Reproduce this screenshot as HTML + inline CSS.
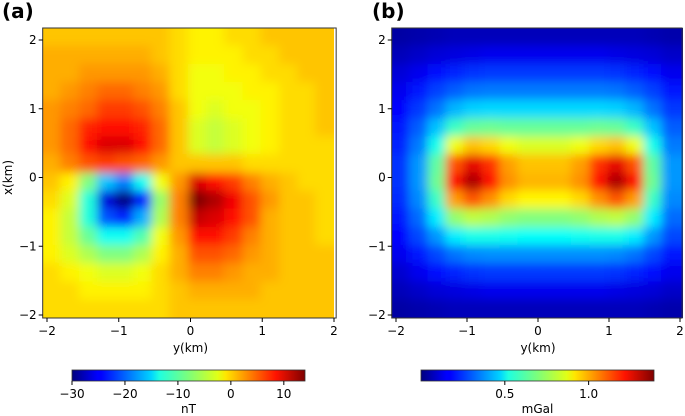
<!DOCTYPE html>
<html><head><meta charset="utf-8"><style>
html,body{margin:0;padding:0;background:#fff;}
svg{display:block;font-family:"DejaVu Sans","Liberation Sans",sans-serif;}
</style></head><body>
<svg id="fig" width="685" height="416" viewBox="0 0 685 416">
<defs>
<filter id="sm" x="-0.2" y="-0.2" width="1.4" height="1.4"><feGaussianBlur stdDeviation="5"/></filter>
<clipPath id="ca"><rect x="43" y="28" width="291" height="290"/></clipPath>
<clipPath id="cb"><rect x="392" y="28" width="291" height="290"/></clipPath>
<linearGradient id="jet" x1="0" x2="1" y1="0" y2="0">
<stop offset="0" stop-color="#00007f"/><stop offset="0.11" stop-color="#0000ff"/><stop offset="0.125" stop-color="#0000ff"/>
<stop offset="0.34" stop-color="#00d4ff"/><stop offset="0.375" stop-color="#1fffe0"/><stop offset="0.5" stop-color="#7dff7a"/>
<stop offset="0.625" stop-color="#e0ff17"/><stop offset="0.66" stop-color="#ffe600"/><stop offset="0.875" stop-color="#ff1300"/>
<stop offset="1" stop-color="#7f0000"/></linearGradient>
</defs>
<text x="2" y="18" font-size="20" font-weight="bold">(a)</text>
<text x="372" y="18" font-size="20" font-weight="bold">(b)</text>
<g id="pa"></g>
<g id="pb"></g>
</svg>
<script>
const colCenters=[-1.93,-1.68,-1.42,-1.17,-0.92,-0.66,-0.41,-0.16,0.10,0.35,0.60,0.86,1.11,1.37,1.62,1.87];
const rowCenters=[2.04,1.78,1.51,1.25,0.99,0.72,0.46,0.20,-0.07,-0.33,-0.59,-0.86,-1.12,-1.38,-1.65,-1.91];
const magValues=[
[0,0,0,0,0,0,0,-1,-2,-2,-1,-1,0,0,0,0],
[1,1,1,1,1,1,0,-1,-2,-2,-2,-1,-1,0,0,0],
[1,1,2,2,2,2,1,-1,-3,-3,-2,-2,-1,-1,0,0],
[1,2,3,4,4,3,2,-1,-3,-3,-3,-2,-2,-1,-1,0],
[2,3,4,6,6,5,3,0,-3,-4,-3,-3,-2,-1,-1,0],
[2,4,7,8,8,7,4,0,-4,-5,-4,-3,-2,-1,-1,0],
[2,4,8,10,10,8,4,0,-4,-5,-4,-3,-2,-1,-1,-1],
[1,3,5,6,5,4,2,0,0,0,0,-1,-1,-1,-1,-1],
[0,-2,-8,-16,-19,-13,-3,2,10,8,6,3,1,0,-1,-1],
[-1,-4,-12,-26,-30,-24,-7,3,14,12,9,5,2,0,0,-1],
[-2,-5,-12,-21,-23,-17,-6,3,11,10,8,5,1,0,0,-1],
[-2,-5,-9,-13,-13,-10,-3,2,8,8,6,3,1,0,0,-1],
[-2,-4,-6,-8,-8,-6,-2,1,5,5,4,2,1,0,0,0],
[-1,-2,-3,-4,-4,-3,-1,1,3,3,2,1,1,0,0,0],
[-1,-1,-2,-2,-2,-2,-1,0,1,1,1,1,0,0,0,0],
[-1,-1,-1,-1,-1,-1,-1,0,0,0,0,0,0,0,0,0]];
const gravValues=[
[0.05,0.06,0.07,0.08,0.08,0.08,0.08,0.08,0.08,0.08,0.08,0.08,0.08,0.08,0.07,0.06],
[0.08,0.1,0.12,0.13,0.14,0.15,0.15,0.15,0.15,0.15,0.15,0.15,0.14,0.13,0.12,0.1],
[0.12,0.15,0.19,0.22,0.24,0.25,0.25,0.25,0.25,0.25,0.25,0.25,0.24,0.22,0.19,0.15],
[0.15,0.2,0.26,0.3,0.33,0.34,0.34,0.34,0.34,0.34,0.34,0.34,0.33,0.3,0.26,0.2],
[0.18,0.25,0.33,0.42,0.46,0.47,0.47,0.47,0.47,0.47,0.47,0.47,0.46,0.42,0.33,0.25],
[0.2,0.3,0.44,0.6,0.66,0.67,0.66,0.66,0.66,0.66,0.66,0.67,0.66,0.6,0.44,0.3],
[0.22,0.34,0.55,0.85,0.95,0.92,0.85,0.82,0.82,0.82,0.85,0.92,0.95,0.85,0.55,0.34],
[0.24,0.38,0.65,1.1,1.25,1.15,1.0,0.95,0.95,0.95,1.0,1.15,1.25,1.1,0.65,0.38],
[0.24,0.38,0.67,1.2,1.33,1.2,1.02,0.97,0.97,0.97,1.02,1.2,1.33,1.2,0.67,0.38],
[0.23,0.36,0.6,1.0,1.1,1.02,0.92,0.88,0.88,0.88,0.92,1.02,1.1,1.0,0.6,0.36],
[0.2,0.32,0.5,0.72,0.78,0.76,0.72,0.7,0.7,0.7,0.72,0.76,0.78,0.72,0.5,0.32],
[0.18,0.27,0.38,0.5,0.55,0.55,0.54,0.53,0.53,0.53,0.54,0.55,0.55,0.5,0.38,0.27],
[0.15,0.2,0.27,0.33,0.36,0.37,0.37,0.37,0.37,0.37,0.37,0.37,0.36,0.33,0.27,0.2],
[0.11,0.15,0.19,0.22,0.24,0.25,0.25,0.25,0.25,0.25,0.25,0.25,0.24,0.22,0.19,0.15],
[0.08,0.1,0.12,0.13,0.14,0.15,0.15,0.15,0.15,0.15,0.15,0.15,0.14,0.13,0.12,0.1],
[0.05,0.06,0.07,0.08,0.08,0.08,0.08,0.08,0.08,0.08,0.08,0.08,0.08,0.08,0.07,0.06]];
const axisTicks=[-2,-1,0,1,2];
const magCbarTicks=[-30,-20,-10,0,10];
const gravCbarTicks=[0.5,1.0];
const magRange=[-30,14];
const gravRange=[0,1.39];

const NS='http://www.w3.org/2000/svg';
function mk(tag,attrs,parent){const e=document.createElementNS(NS,tag);for(const k in attrs)e.setAttribute(k,attrs[k]);parent.appendChild(e);return e;}
function jet(t){t=Math.max(0,Math.min(1,t));const c=v=>Math.round(255*Math.max(0,Math.min(1,v)));
return `rgb(${c(1.5-Math.abs(4*t-3))},${c(1.5-Math.abs(4*t-2))},${c(1.5-Math.abs(4*t-1))})`;}

function panel(g,x0,x2px,values,range,clip,cb,cbTicks,cbLabel,name){
  const sx=v=>x0+(v+2)*(x2px-x0)/4;
  const sy=v=>40+(2-v)*(315-40)/4;
  const cw=(x2px-x0)/4*0.254, ch=(315-40)/4*0.263;
  const nR=values.length, nC=values[0].length, pad=20;
  const hg=mk('g',{'clip-path':`url(#${clip})`},g);
  const bl=mk('g',{filter:'url(#sm)'},hg);
  
  
  values.forEach((row,i)=>row.forEach((v,j)=>{
    let x=sx(colCenters[j])-cw/2-0.5, y=sy(rowCenters[i])-ch/2-0.5, w=cw+1, h=ch+1;
    if(j===0){x-=pad;w+=pad;} if(j===nC-1){w+=pad;}
    if(i===0){y-=pad;h+=pad;} if(i===nR-1){h+=pad;}
    const r=mk('rect',{x:x,y:y,width:w,height:h,fill:jet((v-range[0])/(range[1]-range[0]))},bl);
    
    
  }));
  const bx=sx(-2.06), bw=sx(2.03)-sx(-2.06);
  const fr=mk('rect',{x:bx,y:28,width:bw,height:290,fill:'none',stroke:'#333','stroke-width':1},g);
  
  
  axisTicks.forEach(t=>{
    mk('line',{x1:sx(t),x2:sx(t),y1:318,y2:322,stroke:'#000'},g);
    const tx=mk('text',{x:sx(t),y:335,'font-size':12,'text-anchor':'middle'},g);tx.textContent=(t<0?'\u2212'+(-t):t);
    
    
    mk('line',{x1:bx-4,x2:bx,y1:sy(t),y2:sy(t),stroke:'#000'},g);
    const ty=mk('text',{x:bx-6,y:sy(t)+4,'font-size':12,'text-anchor':'end'},g);ty.textContent=(t<0?'\u2212'+(-t):t);
    
    
  });
  const xl=mk('text',{x:sx(0),y:352,'font-size':12,'text-anchor':'middle'},g);xl.textContent='y(km)';
  
  
  if(name==='magnetic'){const yl=mk('text',{x:0,y:0,'font-size':12,'text-anchor':'middle',transform:`translate(12,${sy(0)}) rotate(-90)`},g);yl.textContent='x(km)';
    
    }
  const cbr=mk('rect',{x:cb[0],y:370,width:cb[1]-cb[0],height:11,fill:'url(#jet)',stroke:'#333','stroke-width':0.8},g);
  
  
  const cx=v=>cb[0]+(v-range[0])/(range[1]-range[0])*(cb[1]-cb[0]);
  cbTicks.forEach(t=>{
    mk('line',{x1:cx(t),x2:cx(t),y1:381,y2:385,stroke:'#000'},g);
    const tt=mk('text',{x:cx(t),y:398,'font-size':12,'text-anchor':'middle'},g);
    tt.textContent=(t<0?'\u2212'+(-t):(range[1]<5?t.toFixed(1):String(t)));
    
    
  });
  const cl=mk('text',{x:(cb[0]+cb[1])/2,y:413,'font-size':12,'text-anchor':'middle'},g);cl.textContent=cbLabel;
  
  
}
panel(document.getElementById('pa'),47,334,magValues,magRange,'ca',[72,305],magCbarTicks,'nT','magnetic');
panel(document.getElementById('pb'),396,680,gravValues,gravRange,'cb',[421,654],gravCbarTicks,'mGal','gravity');
</script>
</body></html>
